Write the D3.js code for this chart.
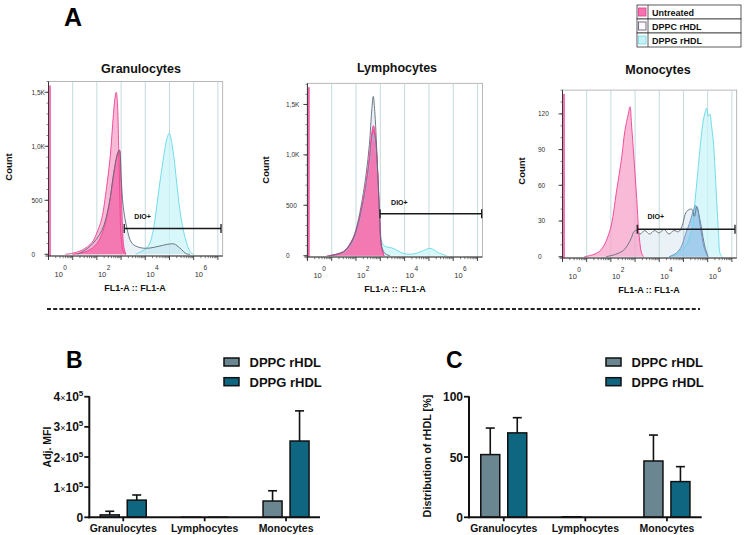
<!DOCTYPE html>
<html><head><meta charset="utf-8">
<script src="https://cdn.jsdelivr.net/npm/d3@7"></script>
<style>body{margin:0;background:#fff} svg{display:block} text{font-family:"Liberation Sans",Arial,sans-serif}</style>
</head><body><svg id="c" width="745" height="535"></svg>
<script>
// ---------------- DATA ----------------
// Histograms: [log10(FL1-A), count]
const histPanels = ["Granulocytes", "Lymphocytes", "Monocytes"];
const histSeries = ["Untreated", "DPPC rHDL", "DPPG rHDL"];

const granUntreated = [[0.7,0],[1.0,10],[1.4,40],[1.8,110],[2.0,200],[2.2,330],[2.4,620],[2.55,900],[2.65,1200],[2.75,1450],[2.8,1500],[2.85,1400],[2.9,1000],[2.95,520],[3.0,160],[3.1,20],[3.2,0]];
const granUntreated2 = [[1.0,0],[1.6,30],[2.0,100],[2.3,250],[2.5,450],[2.7,750],[2.85,930],[2.93,965],[3.0,700],[3.05,300],[3.12,60],[3.2,0]];
const granDPPC = [[1.2,0],[1.7,70],[2.2,220],[2.5,460],[2.7,760],[2.85,930],[2.93,965],[3.0,720],[3.09,440],[3.23,255],[3.44,105],[3.78,62],[4.19,58],[4.6,77],[5.0,95],[5.2,95],[5.43,58],[5.7,5],[5.85,0]];
const granDPPG = [[3.6,0],[3.78,20],[4.06,58],[4.19,105],[4.33,225],[4.47,440],[4.6,660],[4.74,873],[4.88,1058],[4.99,1120],[5.16,937],[5.3,660],[5.43,410],[5.57,225],[5.71,105],[5.85,25],[5.98,0]];

const lymphUntreated = [[0.8,0],[1.2,10],[1.5,40],[1.8,120],[2.0,230],[2.2,420],[2.4,680],[2.55,950],[2.65,1180],[2.72,1250],[2.8,1150],[2.9,800],[2.98,350],[3.05,80],[3.15,0]];
const lymphUntreated2 = [[0.9,0],[1.5,45],[1.8,140],[2.0,250],[2.2,440],[2.4,700],[2.55,980],[2.65,1220],[2.72,1290],[2.8,1180],[2.9,780],[2.98,330],[3.06,70],[3.15,0]];
const lymphDPPC = [[0.9,0],[1.5,40],[1.8,130],[2.0,260],[2.2,480],[2.4,780],[2.55,1100],[2.65,1450],[2.71,1580],[2.78,1400],[2.88,900],[2.97,400],[3.05,100],[3.2,20],[3.4,0]];
const lymphDPPG = [[0.9,0],[1.5,35],[1.8,110],[2.0,220],[2.2,400],[2.4,650],[2.55,900],[2.65,1130],[2.72,1200],[2.8,1100],[2.9,750],[3.0,300],[3.12,106],[3.53,73],[3.95,23],[4.36,17],[4.77,50],[5.05,73],[5.39,30],[5.73,0]];

const monoUntreated = [[0.9,0],[1.3,2],[1.6,6],[1.96,22],[2.24,56],[2.45,84],[2.58,106],[2.72,120],[2.79,126],[2.86,109],[2.95,84],[3.07,48],[3.17,17],[3.27,3],[3.35,0]];
const monoDPPC = [[1.8,0],[2.2,2],[2.5,5],[2.7,10],[2.85,16],[2.95,21],[3.07,22],[3.2,19],[3.4,22],[3.6,19],[3.8,22],[4.0,20],[4.2,23],[4.4,19],[4.6,22],[4.8,21],[4.93,25],[5.13,38],[5.34,40],[5.45,34],[5.55,42],[5.68,31],[5.89,8],[6.02,0]];
const monoDPPC2 = [[4.4,0],[4.7,3],[4.9,8],[5.1,20],[5.25,28],[5.4,38],[5.5,43],[5.58,40],[5.7,25],[5.85,8],[6.0,0]];
const monoDPPG = [[4.4,0],[4.6,1],[4.9,5],[5.06,8],[5.34,22],[5.45,42],[5.55,62],[5.68,90],[5.8,112],[5.9,122],[5.96,125],[6.02,118],[6.09,120],[6.16,110],[6.23,98],[6.3,75],[6.37,48],[6.45,20],[6.51,3],[6.6,0]];

const histYTicks = [[0,500,1000,1500],[0,500,1000,1500],[0,30,60,90,120]];
const histYTickLabels = [["0","500","1,0K","1,5K"],["0","500","1,0K","1,5K"],["0","30","60","90","120"]];
const histYMax = [1600, 1710, 140];
const histYMinorStep = [100, 100, 10];
const xDecadeLabels = [0, 2, 4, 6];
const gateRange = [[3.13,7.13],[2.99,7.17],[3.09,7.13]];
const gateLevel = [240, 417, 23];

// Bar charts
const barCategories = ["Granulocytes", "Lymphocytes", "Monocytes"];
const barSeries = ["DPPC rHDL", "DPPG rHDL"];
const mfiDPPC = [8000, 300, 54000];
const mfiDPPCErr = [12000, 0, 34000];
const mfiDPPG = [57000, 200, 253000];
const mfiDPPGErr = [17000, 0, 100000];
const mfiTicks = [0, 100000, 200000, 300000, 400000];
const distDPPC = [52, 0.4, 46.7];
const distDPPCErr = [22, 0, 21.5];
const distDPPG = [70, 0, 29.6];
const distDPPGErr = [12.6, 0, 12.4];
const distTicks = [0, 50, 100];

// ---------------- DRAW ----------------
const svg = d3.select("#c");

const PINK = "#ef3f92", PINKFILL = "#f36fac", PINK2 = "#f7a3cb";
const CYAN = "#63d9e8", CYANFILL = "#c9f4f8";
const GREY = "#5d6b78";

const histLayout = [
  {x0:48.5, x1:222.7, y0:254.3, y1:81.5, axisY:256, labX:31.5, countX:12, countY:167, titleX:141, titleY:73, flX:135, flY:291, dioDy:-9},
  {x0:307.4, x1:482.4, y0:255.7, y1:83.3, axisY:257, labX:286, countX:269, countY:170, titleX:397, titleY:72, flX:395, flY:292, dioDy:-9},
  {x0:562.5, x1:736.7, y0:256.7, y1:90.1, axisY:258, labX:538, countX:525, countY:171, titleX:658, titleY:74, flX:649, flY:293, dioDy:-10}
];
const histData = [
  {u:[granUntreated, granUntreated2], c:[granDPPC], g:[granDPPG]},
  {u:[lymphUntreated, lymphUntreated2], c:[lymphDPPC], g:[lymphDPPG]},
  {u:[monoUntreated], c:[monoDPPC, monoDPPC2], g:[monoDPPG]}
];

histPanels.forEach((name, i) => {
  const L = histLayout[i], D = histData[i];
  const x = d3.scaleLog().domain([1, Math.pow(10, 7.2)]).range([L.x0, L.x1]);
  const y = d3.scaleLinear().domain([0, histYMax[i]]).range([L.y0, L.y1]);
  const g = svg.append("g");
  g.append("rect").attr("x", L.x0).attr("y", L.y1).attr("width", L.x1 - L.x0).attr("height", L.axisY - L.y1)
    .attr("fill", "none").attr("stroke", "#a5a5a5").attr("stroke-width", 0.8);
  d3.range(1, 8).forEach(d => {
    g.append("line").attr("x1", x(Math.pow(10, d))).attr("x2", x(Math.pow(10, d)))
      .attr("y1", L.y1).attr("y2", L.axisY).attr("stroke", "#bcd6d8").attr("stroke-width", 0.9);
  });
  const area = d3.area().x(d => x(Math.pow(10, d[0]))).y0(L.y0).y1(d => y(d[1])).curve(d3.curveCatmullRom.alpha(0.5));
  const line = d3.line().x(d => x(Math.pow(10, d[0]))).y(d => y(d[1])).curve(d3.curveCatmullRom.alpha(0.5));
  D.g.forEach(s => g.append("path").attr("d", area(s)).attr("fill", CYANFILL).attr("fill-opacity", 0.75));
  D.c.forEach((s, k) => g.append("path").attr("d", area(s)).attr("fill", k === 0 ? "#b9cfe6" : "#7fb4e6").attr("fill-opacity", k === 0 ? 0.3 : 0.55));
  D.u.forEach((s, k) => g.append("path").attr("d", area(s)).attr("fill", k === 0 ? PINK2 : PINKFILL).attr("fill-opacity", k === 0 ? 0.75 : 0.85));
  D.g.forEach(s => g.append("path").attr("d", line(s)).attr("fill", "none").attr("stroke", CYAN).attr("stroke-width", 0.9));
  D.u.forEach(s => g.append("path").attr("d", line(s)).attr("fill", "none").attr("stroke", PINK).attr("stroke-width", 0.9));
  D.c.forEach((s, k) => g.append("path").attr("d", line(s)).attr("fill", "none").attr("stroke", k === 0 ? GREY : "#6d8fbf").attr("stroke-width", 0.9));
  g.append("line").attr("x1", L.x0 + 1.5).attr("x2", L.x0 + 1.5).attr("y1", L.y1 + 4).attr("y2", L.axisY)
    .attr("stroke", "#f0449a").attr("stroke-width", 1.5);
  g.append("line").attr("x1", L.x0).attr("x2", L.x0).attr("y1", L.y1).attr("y2", L.axisY + 3).attr("stroke", "#333").attr("stroke-width", 1);
  g.append("line").attr("x1", L.x0 - 3).attr("x2", L.x1).attr("y1", L.axisY).attr("y2", L.axisY).attr("stroke", "#333").attr("stroke-width", 1);
  d3.range(0, histYMax[i] + 0.001, histYMinorStep[i]).forEach(v => {
    g.append("line").attr("x1", L.x0 - 2).attr("x2", L.x0).attr("y1", y(v)).attr("y2", y(v)).attr("stroke", "#555").attr("stroke-width", 0.7);
  });
  histYTicks[i].forEach((v, k) => {
    g.append("line").attr("x1", L.x0 - 4).attr("x2", L.x0).attr("y1", y(v)).attr("y2", y(v)).attr("stroke", "#333").attr("stroke-width", 0.9);
    g.append("text").attr("x", L.labX).attr("y", y(v) + 2.3).attr("font-size", 6.5).attr("fill", "#333").text(histYTickLabels[i][k]);
  });
  d3.range(0, 8).forEach(d => {
    const xv = x(Math.pow(10, d));
    if (xv <= L.x1 + 0.5) g.append("line").attr("x1", xv).attr("x2", xv).attr("y1", L.axisY).attr("y2", L.axisY + 4).attr("stroke", "#333").attr("stroke-width", 0.9);
    d3.range(2, 10).forEach(m => {
      const xm = x(m * Math.pow(10, d));
      if (xm < L.x1) g.append("line").attr("x1", xm).attr("x2", xm).attr("y1", L.axisY).attr("y2", L.axisY + 2.2).attr("stroke", "#444").attr("stroke-width", 0.7);
    });
  });
  xDecadeLabels.forEach(d => {
    const t = g.append("text").attr("x", x(Math.pow(10, d)) + (d === 0 ? 6 : 1)).attr("y", L.axisY + 21).attr("font-size", 7.5).attr("fill", "#333");
    t.append("tspan").text("10");
    t.append("tspan").attr("dx", 0.5).attr("dy", -7).attr("font-size", 6.5).text(d);
  });
  const gx1 = x(Math.pow(10, gateRange[i][0])), gx2 = x(Math.pow(10, gateRange[i][1])), gy = y(gateLevel[i]);
  g.append("line").attr("x1", gx1).attr("x2", gx2).attr("y1", gy).attr("y2", gy).attr("stroke", "#1a1a1a").attr("stroke-width", 1.5);
  [gx1, gx2].forEach(gx => g.append("line").attr("x1", gx).attr("x2", gx).attr("y1", gy - 4.5).attr("y2", gy + 4.5).attr("stroke", "#1a1a1a").attr("stroke-width", 1.3));
  g.append("text").attr("x", gx1 + (gx2 - gx1) * 0.19).attr("y", gy + L.dioDy).attr("font-size", 7).attr("font-weight", "bold").attr("fill", "#111").attr("text-anchor", "middle").text("DIO+");
  g.append("text").attr("x", L.titleX).attr("y", L.titleY).attr("font-size", 12.5).attr("font-weight", "bold").attr("text-anchor", "middle").attr("fill", "#111").text(name);
  g.append("text").attr("transform", `translate(${L.countX},${L.countY}) rotate(-90)`).attr("font-size", 9.5).attr("font-weight", "bold").attr("text-anchor", "middle").attr("fill", "#111").text("Count");
  g.append("text").attr("x", L.flX).attr("y", L.flY).attr("font-size", 9).attr("font-weight", "bold").attr("text-anchor", "middle").attr("fill", "#111").text("FL1-A :: FL1-A");
});

svg.append("text").attr("x", 64).attr("y", 26).attr("font-size", 25).attr("font-weight", "bold").attr("fill", "#000").text("A");

{
  const lg = svg.append("g");
  const bx = 637, by = 5, bw = 104, rh = 14;
  const sw = [{fill: "#f472b0", stroke: "#e0468f"}, {fill: "#fbfbfd", stroke: "#6a5e7a"}, {fill: "#c6f1f6", stroke: "#7fdbe8"}];
  histSeries.forEach((s, k) => {
    lg.append("rect").attr("x", bx).attr("y", by + k * rh).attr("width", bw).attr("height", rh).attr("fill", "#fff").attr("stroke", "#333").attr("stroke-width", 0.8);
    lg.append("rect").attr("x", bx + 1.5).attr("y", by + k * rh + 3).attr("width", 7.5).attr("height", 8).attr("fill", sw[k].fill).attr("stroke", sw[k].stroke).attr("stroke-width", 0.9);
    lg.append("text").attr("x", bx + 15).attr("y", by + k * rh + 10.5).attr("font-size", 9).attr("font-weight", "bold").attr("fill", "#111").text(s);
  });
  lg.append("line").attr("x1", bx + 11).attr("x2", bx + 11).attr("y1", by).attr("y2", by + 3 * rh).attr("stroke", "#333").attr("stroke-width", 0.8);
}

svg.append("line").attr("x1", 47).attr("x2", 700).attr("y1", 309).attr("y2", 309)
  .attr("stroke", "#222").attr("stroke-width", 1.8).attr("stroke-dasharray", "4,2.2");

// ---------------- BAR CHARTS ----------------
const COL = {"DPPC rHDL": "#6a8691", "DPPG rHDL": "#0f6680"};
function barChart(cfg) {
  const g = svg.append("g");
  const x = d3.scalePoint().domain(barCategories).range([cfg.ax0, cfg.ax1]).padding(cfg.pad);
  const xs = d3.scaleBand().domain(barSeries).range([-23, 23]).paddingInner(0.296);
  const y = d3.scaleLinear().domain([0, cfg.max]).range([cfg.y0, cfg.y1]);
  cfg.values.forEach((vals, si) => {
    const s = barSeries[si];
    barCategories.forEach((c, ci) => {
      const v = vals[ci], e = cfg.errs[si][ci];
      const bx = x(c) + xs(s), bw = xs.bandwidth();
      if (e > 0) {
        const cx = bx + bw / 2;
        g.append("line").attr("x1", cx).attr("x2", cx).attr("y1", y(v)).attr("y2", y(v + e)).attr("stroke", "#111").attr("stroke-width", 1.6);
        g.append("line").attr("x1", cx - 4.5).attr("x2", cx + 4.5).attr("y1", y(v + e)).attr("y2", y(v + e)).attr("stroke", "#111").attr("stroke-width", 1.6);
      }
      g.append("rect").attr("x", bx).attr("y", y(v)).attr("width", bw).attr("height", y(0) - y(v))
        .attr("fill", COL[s]).attr("stroke", "#111").attr("stroke-width", 1.5);
    });
  });
  g.append("line").attr("x1", cfg.ax0).attr("x2", cfg.ax0).attr("y1", cfg.y1 - 0.5).attr("y2", cfg.y0 + 1).attr("stroke", "#111").attr("stroke-width", 2);
  g.append("line").attr("x1", cfg.ax0 - 1).attr("x2", cfg.ax1).attr("y1", cfg.y0).attr("y2", cfg.y0).attr("stroke", "#111").attr("stroke-width", 2);
  cfg.ticks.forEach(v => {
    g.append("line").attr("x1", cfg.ax0 - 5).attr("x2", cfg.ax0).attr("y1", y(v)).attr("y2", y(v)).attr("stroke", "#111").attr("stroke-width", 1.8);
    const t = g.append("text").attr("x", cfg.ax0 - 6).attr("y", y(v) + 4.5).attr("text-anchor", "end").attr("font-size", 12).attr("font-weight", "bold").attr("fill", "#111");
    cfg.tickFmt(t, v);
  });
  barCategories.forEach(c => {
    g.append("line").attr("x1", x(c)).attr("x2", x(c)).attr("y1", cfg.y0).attr("y2", cfg.y0 + 4).attr("stroke", "#111").attr("stroke-width", 1.8);
    g.append("text").attr("x", x(c)).attr("y", 531.5).attr("text-anchor", "middle").attr("font-size", 10.5).attr("font-weight", "bold").attr("fill", "#111").text(c);
  });
  g.append("text").attr("transform", `translate(${cfg.ylx},${cfg.yly}) rotate(-90)`).attr("text-anchor", "middle")
    .attr("font-size", cfg.ylSize).attr("font-weight", "bold").attr("fill", "#111").text(cfg.ylabel);
  g.append("text").attr("x", cfg.letterX).attr("y", 367.5).attr("font-size", 23).attr("font-weight", "bold").attr("fill", "#000").text(cfg.letter);
  barSeries.forEach((s, k) => {
    const cy = 362 + k * 19.7;
    g.append("rect").attr("x", cfg.legX).attr("y", cy - 4).attr("width", 15).attr("height", 8).attr("fill", COL[s]).attr("stroke", "#111").attr("stroke-width", 1.5);
    g.append("text").attr("x", cfg.legX + 25.5).attr("y", cy + 4.8).attr("font-size", 13).attr("font-weight", "bold").attr("fill", "#111").text(s);
  });
}

barChart({
  ax0: 89.3, ax1: 320, pad: 0.417, y0: 517.3, y1: 396.7, max: 400000,
  values: [mfiDPPC, mfiDPPG], errs: [mfiDPPCErr, mfiDPPGErr], ticks: mfiTicks,
  tickFmt: (t, v) => {
    if (v === 0) { t.text("0"); return; }
    t.append("tspan").text(v / 100000);
    t.append("tspan").attr("font-size", 9).attr("font-weight", "normal").text("×");
    t.append("tspan").text("10");
    t.append("tspan").attr("dy", -5).attr("font-size", 8).text("5");
  },
  ylabel: "Adj. MFI", ylx: 51, yly: 447, ylSize: 10.5, letter: "B", letterX: 66, legX: 224
});
barChart({
  ax0: 469, ax1: 701.7, pad: 0.426, y0: 517.3, y1: 396.7, max: 100,
  values: [distDPPC, distDPPG], errs: [distDPPCErr, distDPPGErr], ticks: distTicks,
  tickFmt: (t, v) => t.text(v),
  ylabel: "Distribution of rHDL [%]", ylx: 431, yly: 456, ylSize: 10.8, letter: "C", letterX: 446, legX: 606
});
</script></body></html>
